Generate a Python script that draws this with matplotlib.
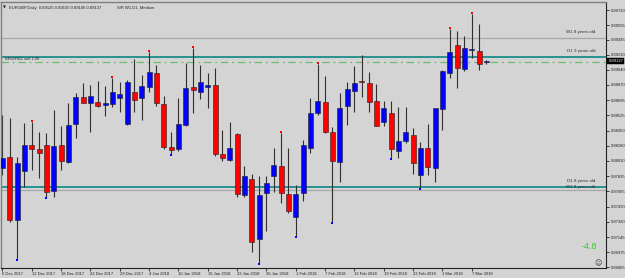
import matplotlib
matplotlib.use("Agg")
import matplotlib.pyplot as plt
import matplotlib.transforms as mtransforms
from matplotlib.patches import Rectangle
import numpy as np

# ---------------- data ----------------
opens = [0.87928, 0.88053, 0.87338, 0.87894, 0.88189, 0.88143, 0.88189, 0.87667, 0.88189, 0.87996,
         0.88427, 0.88733, 0.88665, 0.88677, 0.88643, 0.88654, 0.88722, 0.88427, 0.88790, 0.88722,
         0.88847, 0.89005, 0.88654, 0.88166, 0.88143, 0.88416, 0.88847, 0.88790, 0.88847, 0.88869,
         0.88087, 0.88019, 0.88314, 0.87622, 0.87803, 0.87123, 0.87644, 0.87837, 0.87951, 0.87633,
         0.87372, 0.87644, 0.88155, 0.88552, 0.88677, 0.88336, 0.87996, 0.88631, 0.88801, 0.88915,
         0.88892, 0.88688, 0.88450, 0.88552, 0.88121, 0.88234, 0.88302, 0.87849, 0.88155, 0.87928,
         0.88597, 0.89005, 0.89323, 0.89051, 0.89266, 0.89255, 0.89125]
highs = [0.88529, 0.88495, 0.88053, 0.88438, 0.88450, 0.88336, 0.88325, 0.88586, 0.88404, 0.88665,
         0.88779, 0.88892, 0.88869, 0.88915, 0.88858, 0.88949, 0.88903, 0.88926, 0.89164, 0.88983,
         0.89244, 0.89096, 0.88745, 0.88336, 0.88722, 0.89119, 0.89289, 0.89096, 0.89005, 0.89062,
         0.88359, 0.88450, 0.88325, 0.87951, 0.87860, 0.87837, 0.87837, 0.88155, 0.88325, 0.88155,
         0.87735, 0.88246, 0.88722, 0.89107, 0.88971, 0.88393, 0.88779, 0.88903, 0.89085, 0.89210,
         0.89017, 0.88881, 0.88688, 0.88688, 0.88620, 0.88620, 0.88382, 0.88223, 0.88427, 0.88427,
         0.89039, 0.89504, 0.89482, 0.89425, 0.89675, 0.89561, 0.89155]
lows = [0.87849, 0.87316, 0.86896, 0.87712, 0.87905, 0.87815, 0.87599, 0.87599, 0.87905, 0.87985,
        0.88268, 0.88665, 0.88336, 0.88620, 0.88518, 0.88620, 0.88563, 0.88416, 0.88563, 0.88472,
        0.88790, 0.88631, 0.88143, 0.88087, 0.88121, 0.88404, 0.88552, 0.88711, 0.88608, 0.88064,
        0.88007, 0.88007, 0.87599, 0.87599, 0.86975, 0.86850, 0.87213, 0.87656, 0.87531, 0.87418,
        0.87157, 0.87554, 0.88098, 0.88529, 0.88325, 0.87316, 0.87769, 0.88416, 0.88563, 0.88733,
        0.88563, 0.88404, 0.88404, 0.88041, 0.88041, 0.88211, 0.87860, 0.87701, 0.87849, 0.87769,
        0.88359, 0.88949, 0.88835, 0.89028, 0.89176, 0.89039, 0.89106]
closes = [0.88041, 0.87338, 0.87985, 0.88189, 0.88143, 0.88098, 0.87656, 0.88177, 0.88007, 0.88416,
          0.88733, 0.88665, 0.88745, 0.88631, 0.88665, 0.88790, 0.88767, 0.88903, 0.88699, 0.88858,
          0.89017, 0.88665, 0.88166, 0.88132, 0.88427, 0.88835, 0.88813, 0.88903, 0.88869, 0.88087,
          0.88041, 0.88155, 0.87633, 0.87837, 0.87089, 0.87622, 0.87758, 0.87962, 0.87644, 0.87440,
          0.87633, 0.88189, 0.88552, 0.88688, 0.88336, 0.88007, 0.88608, 0.88824, 0.88892, 0.88903,
          0.88677, 0.88404, 0.88608, 0.88143, 0.88234, 0.88336, 0.87985, 0.88155, 0.87939, 0.88608,
          0.89028, 0.89244, 0.89062, 0.89289, 0.89278, 0.89107, 0.89137]

# fractal markers (bar index)
fractal_up = [4, 15, 20, 26, 38, 43, 61, 64]
fractal_down = [2, 6, 23, 35, 40, 45, 53, 57]

date_labels = ["6 Dec 2017", "12 Dec 2017", "18 Dec 2017", "22 Dec 2017", "29 Dec 2017",
               "4 Jan 2018", "10 Jan 2018", "16 Jan 2018", "22 Jan 2018", "26 Jan 2018",
               "1 Feb 2018", "7 Feb 2018", "13 Feb 2018", "19 Feb 2018", "23 Feb 2018",
               "1 Mar 2018", "7 Mar 2018"]
date_label_step = 4

price_ticks = [0.89720, 0.89550, 0.89380, 0.89210, 0.89040, 0.88870, 0.88695, 0.88525, 0.88350,
               0.88180, 0.88010, 0.87835, 0.87665, 0.87490, 0.87320, 0.87145, 0.86975, 0.86805]
tick_texts = ["0.89720", "0.89555", "0.89385", "0.89210", "0.89040", "0.88870", "0.88695",
              "0.88525", "0.88350", "0.88180", "0.88010", "0.87835", "0.87665", "0.87490",
              "0.87320", "0.87145", "0.86975", "0.86805"]

current_price = 0.89137
order_price = 0.89130
order_label = "#4629911 sell 1.00"

sr_levels = [0.89402, 0.89187, 0.87712, 0.87684]
sr_kinds = ["W1", "D1", "D1", "W1"]
sr_labels = ["W1 8 years old.", "D1 9 years old.", "D1 8 years old.", "W1 8 years old."]

header = "EURGBP,Daily  0.89125 0.89155 0.89106 0.89137"
indicator = "S/R W1,D1, Medium"
score = "-4.8"

# ---------------- style ----------------
BG = "#d4d4d4"
UP = "#0000ff"
DOWN = "#ff0000"
WICK = "#303030"
TEAL = "#1a8c8c"
GREYLINE = "#a8a8a8"
FONT = "Liberation Sans"

fig = plt.figure(figsize=(6.25, 2.78), dpi=100, facecolor=BG)
ax = fig.add_axes([1 / 625, 10 / 278, 605 / 625, 266 / 278])
ax.set_facecolor(BG)

n = len(opens)
x = np.arange(n)
body_w = 0.68

for i in range(n):
    o, h, l, c = opens[i], highs[i], lows[i], closes[i]
    ax.plot([i, i], [l, h], color=WICK, lw=0.8, zorder=2, solid_capstyle="butt")
    col = UP if c >= o else DOWN
    bottom = min(o, c)
    height = abs(c - o)
    if height < 0.00003:
        ax.plot([i - body_w / 2, i + body_w / 2], [c, c], color="#000080", lw=1.2, zorder=3)
    else:
        ax.add_patch(Rectangle((i - body_w / 2, bottom), body_w, height, facecolor=col,
                               edgecolor="#202020", lw=0.4, zorder=3))

ax.plot(fractal_up, [highs[i] + 0.00008 for i in fractal_up], "s", color=DOWN, ms=1.8, mew=0, zorder=4)
ax.plot(fractal_down, [lows[i] - 0.00008 for i in fractal_down], "s", color=UP, ms=1.8, mew=0, zorder=4)

# S/R lines
for lvl, kind in zip(sr_levels, sr_kinds):
    if kind == "D1":
        ax.axhline(lvl, color=TEAL, lw=1.3, zorder=1)
    else:
        ax.axhline(lvl, color=GREYLINE, lw=0.9, zorder=1)

ax.axhline(order_price, color="#74b874", lw=0.9, ls=(0, (6, 3, 1.5, 3)), zorder=1)

xmin, xmax = -0.2, 82.3
ymin, ymax = 0.86794, 0.89811
ax.set_xlim(xmin, xmax)
ax.set_ylim(ymin, ymax)

# S/R labels
label_x = 81.0
offs = [0.00045, 0.00045, 0.00045, 0.00010]
for lvl, lab, off in zip(sr_levels, sr_labels, offs):
    ax.text(label_x, lvl + off, lab, ha="right", va="bottom", fontsize=3.2,
            family=FONT, color="#303030", zorder=5)

ax.text(0.3, order_price + 0.00015, order_label, ha="left", va="bottom", fontsize=3.0,
        family=FONT, color="#202020", zorder=5)

# axes ticks
ax.yaxis.tick_right()
ax.set_yticks(price_ticks)
ax.set_yticklabels(tick_texts, fontsize=3.0, family=FONT, color="#202020")
ax.tick_params(axis="y", direction="out", length=2, width=0.6, pad=1.5, colors="#202020")

ax.set_xticks(np.arange(0, len(date_labels) * date_label_step, date_label_step))
ax.set_xticklabels(date_labels, fontsize=3.0, family=FONT, color="#202020", ha="left")
ax.tick_params(axis="x", direction="out", length=2, width=0.6, pad=1.0, colors="#202020")

for s in ["top", "left"]:
    ax.spines[s].set_color("#808080")
    ax.spines[s].set_linewidth(1.0)
for s in ["right", "bottom"]:
    ax.spines[s].set_color("#202020")
    ax.spines[s].set_linewidth(0.8)

# current price tag
trans = mtransforms.blended_transform_factory(ax.transAxes, ax.transData)
ax.text(1.004, current_price, f"{current_price:.5f}", transform=trans, ha="left", va="center",
        fontsize=3.0, family=FONT, color="white", zorder=6, clip_on=False,
        bbox=dict(boxstyle="square,pad=0.25", fc="black", ec="black", lw=0.3))

# header text
ax.text(0.004, 0.985, "\u25bc", transform=ax.transAxes, ha="left", va="top", fontsize=2.8,
        family="DejaVu Sans", color="#202020")
ax.text(0.013, 0.985, header, transform=ax.transAxes, ha="left", va="top", fontsize=3.0,
        family=FONT, color="#202020")
ax.text(0.192, 0.985, indicator, transform=ax.transAxes, ha="left", va="top", fontsize=3.0,
        family=FONT, color="#202020")

# score and smiley
ax.text(0.985, 0.065, score, transform=ax.transAxes, ha="right", va="bottom", fontsize=6.5,
        family=FONT, color="#33cc33")
ax.text(0.993, 0.008, "\u263a", transform=ax.transAxes, ha="right", va="bottom", fontsize=5,
        family="DejaVu Sans", color="#303030")

fig.savefig("out.png", dpi=100, facecolor=BG)
